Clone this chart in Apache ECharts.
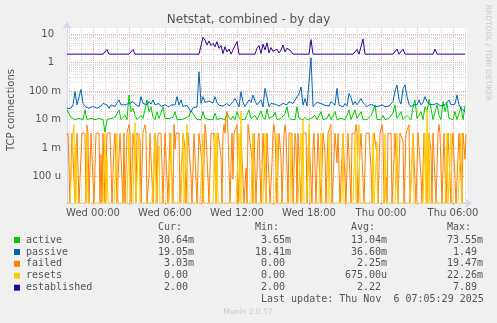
<!DOCTYPE html>
<html>
<head>
<meta charset="utf-8">
<script src="https://cdn.jsdelivr.net/npm/echarts@6/dist/echarts.min.js"></script>
<style>
html,body{margin:0;padding:0;background:#f0f0f0}
#chart{width:497px;height:323px}
</style>
</head>
<body>
<div id="chart"></div>
<script>
// x axis: 5 minute slots, Tue 21:50 .. Thu 07:10
var startMinute = 21 * 60 + 50;
var slotMinutes = 5;
var slotCount = 401;
var dayNames = ['Tue', 'Wed', 'Thu'];
var tickLabels = ['Wed 00:00', 'Wed 06:00', 'Wed 12:00', 'Wed 18:00', 'Thu 00:00', 'Thu 06:00'];
var yTickLabels = ['100 u', '1 m', '10 m', '100 m', '1', '10']; // 1e-4 .. 1e1

// active / passive / established: one value every 10 minutes (every 2nd slot)
// values in milli (x 1e-3)
var activeM = [
  22,16,12,14,10,10,11,10,10,22,
  10,10,11,10,10,10,11,10,10,3.65,
  10,10,11,10,12,14,22,10,10,14,
  10,73.55,19,25,14,10,10,14,11,10,
  49,19,28,12,10,19,11,10,28,11,
  10,11,10,12,19,10,10,10,10,11,
  10,13,20,22,13,10,10,10,19,11,
  10,10,11,10,17,10,10,11,10,10,
  17,12,10,13,10,19,12,10,10,10,
  11,22,11,10,14,10,10,20,12,10,
  24,11,12,13,18,10,11,11,10,16,
  28,12,10,10,10,28,11,10,10,12,
  10,10,11,10,14,10,10,19,10,11,
  11,16,10,10,19,10,10,11,11,10,
  14,22,10,10,22,11,10,19,10,10,
  10,10,14,20,33,10,10,10,14,10,
  10,11,12,17,33,11,10,19,10,10,
  14,16,10,28,49,11,10,19,10,28,
  19,52,25,10,10,33,14,10,43,19,
  37,11,10,10,19,10,10,28,10,30.64
];
var passiveM = [
  25,29,25,33,96,33,29,115,37,29,
  33,25,28,29,33,25,28,30,37,37,
  33,25,33,30,29,38,49,33,29,33,
  29,37,40,43,35,33,29,64,37,33,
  33,43,35,49,33,37,37,29,33,33,
  38,28,33,30,33,64,32,49,29,33,
  32,28,18.41,26,30,28,480,37,64,40,
  37,45,43,38,64,40,32,37,30,28,
  37,30,28,43,55,64,28,96,40,29,
  33,49,40,73,45,33,35,49,28,126,
  60,29,37,33,35,37,30,28,37,35,
  33,43,49,37,40,64,80,140,32,55,
  30,32,1490,29,33,40,43,37,35,32,
  33,30,43,38,32,126,32,30,28,37,
  30,83,60,33,43,33,35,55,40,43,
  28,33,31,33,28,25,30,29,33,28,
  25,30,29,43,100,165,50,35,120,165,
  64,35,28,33,37,33,49,33,40,64,
  43,35,33,33,37,37,33,30,29,33,
  35,49,33,33,35,73,33,25,28,19.05
];
var established = [
  2,2,2,2,2,2,2,2,2,2,
  2,2,2,2,2,2,2,2,2,2,
  2.9,2,2,2,2,2,2,2,2,2,
  2,2,2,2.9,2,2,2,2,2,2,
  2,2,2,2,2,2,2,2,2,2,
  2,2,2,2,2,2,2,2,2,2,
  2,2,2,2,2,2,2,2,7.89,6.3,
  4.2,5.8,4.0,4.8,3.65,5.5,3.2,4.0,2.1,3.65,
  2.4,3.0,2.0,2.8,4.0,5.5,2.0,2,2,2,
  2,2,2,2,2,3.2,4.0,2.1,4.5,2.8,
  5.0,2.2,3.4,2.5,2.8,3.0,2.2,2.8,4.2,2.4,
  3.2,3.65,2.6,2.0,2,2,2,2,2,2,
  2,2,6.5,2,2,2,2,2,2,2,
  2,2,2,2,2,2,2,2,2,2,
  2,2,2,2,2,2.9,2,2,6.8,2,
  2,2,2,2,2,2,2,2,2,2,
  2,2,2,2,2,3.0,2,2,3.0,2,
  2,2,2,2,2,2,2,2,2,2,
  2,2,2,2,3.0,2,2,2,2,2,
  2,2,2,2,2,2,2,2,2,2
];

// failed / resets: one value every 5 minutes, in milli
var failedM = [
  2.8,3.3,3.4,0,0,3.3,3.3,3.5,0,0.4,
  3.3,3.3,0,0,0,3.4,3.3,3.3,3.3,0,
  6.5,3.3,0,0.2,3.3,3.4,3.3,0,0,3.3,
  3.3,3.4,3.3,0,0.6,0,3.3,3.3,0,0,
  3.3,3.4,3.3,3.5,3.3,0,0,1.2,3.3,3.4,
  0,0,0,3.3,3.3,3.3,0,3.4,0,0,
  3.4,3.3,6.7,3.3,0,0,3.3,3.3,0.5,0,
  3.4,3.3,3.3,2.0,0,0,3.5,3.3,6.6,3.3,
  0,0,0.1,3.3,3.3,3.4,0,0,3.3,1.5,
  0,3.3,3.4,3.3,3.3,0.2,0,0,3.3,3.3,
  3.3,0,0,3.4,3.3,3.3,0,6.7,0.9,3.3,
  3.3,3.3,3.4,0,0,0,3.3,3.3,1.0,0,
  0,3.4,3.3,3.3,0.1,0,0,3.3,3.3,3.3,
  0,0,3.3,3.4,3.3,0.3,0,0,6.7,3.3,
  3.3,3.3,0,0,3.3,3.4,3.3,3.3,0.15,0,
  0,3.4,3.3,3.3,0.5,0,3.3,6.7,3.3,12,
  19.47,3.3,3.3,0,0,3.3,0.08,3.3,3.3,3.3,
  6.6,0,0,0.8,3.3,3.3,3.4,0,0,0.2,
  0,6.7,3.3,3.3,3.3,0.4,0,3.3,3.4,0,
  0,2.2,3.3,3.3,0,0,3.3,3.3,3.3,0,
  3.3,3.3,3.4,0,0,0.3,3.3,6.7,3.3,3.3,
  0,0,3.3,3.3,0.5,0,0,3.3,6.5,3.3,
  0.2,0,3.4,3.3,3.3,3.3,0,0,3.3,1.5,
  0,3.3,3.3,3.3,0,0,3.3,3.3,3.3,3.4,
  0,0,3.3,3.3,3.4,0,1.2,3.3,3.3,0,
  0,3.3,3.3,3.3,0,0.2,3.3,3.3,0.7,0,
  0,3.4,3.3,3.3,6.7,0,0,0,3.3,3.3,
  0.3,3.3,3.3,0,0,0.5,3.3,3.3,3.4,0,
  0,3.3,3.3,0.1,0,3.3,3.4,3.3,3.3,6.7,
  3.3,0,0,0.9,3.3,3.3,3.3,0,0,3.3,
  3.4,3.3,3.3,3.3,0.2,0,0,3.4,3.3,3.3,
  0.6,0,0,3.3,3.3,6.7,3.3,0,0,0.1,
  0,3.3,3.4,3.3,3.3,0,0,0.4,3.3,3.3,
  3.3,0,0,3.4,3.3,3.3,1.8,0,0,3.3,
  3.3,3.3,6.6,0,0,0.3,3.3,3.3,3.3,0,
  0,3.4,3.3,3.3,0.1,0,0,3.4,3.3,3.3,
  0,0,3.3,3.3,0.8,0,3.3,3.3,3.4,0,
  0,3.3,6.7,3.3,3.3,0,0.2,3.3,3.3,0,
  0,3.4,3.3,3.3,0,1.2,3.3,3.3,3.3,0,
  0,0.5,3.3,3.3,3.3,0,3.4,3.3,0.4,3.03
];
var resetsM = [
  0,0,0,0,0,0,3.3,6.7,0,1.5,0,0,0,0,0,0,0,0,0,0,
  3.3,0,0,0,0,0,0,0,0,0,0,0,0,0,0,0,0,0,3.3,0,
  0.5,0,0,0,0,0,0,0,0,0,3.3,0,0,0,0,0,0,0,0,0,
  0,0,3.3,0,0,0,0,0,8,0,0,0,3.3,0,0,0,0,0,0,0,
  0,0,0,0,0,0,0,0,3.3,0,0,0,1.2,0,0,0,0,0,0,0,
  0,0,0,0,3.3,0,0,0,0,0,0,0,0,0,0,0,3.3,0,0,0,
  6.7,0,0,0,0,0,0,0,0,0,0,0,0,0,0,0,3.3,0,0,0,
  0,0,0,0,0,0,0,0,3.3,0,3.3,0,0,0,0,0,0,0,0,0,
  0,0,0,0,0,0,0,0,0,0,0,0,3.3,0,20,0,0,0,0,0,
  0,0,0,0,0,0,3.3,0,0,0,0,0,0,0,0,0,0,0,3.3,0,
  0,0,0,0,0,0,0,0,0,0,3.3,0,0,0,0,0,0,0,0,0,
  0,0,0,0,3.3,0,0,0,0,0,0,0,0,0,3.3,0,10,0,0,0,
  0,0,6.7,0,0,0,0,0,0,0,0,0,0,0,3.3,0,0,0,0,0,
  0,0,3.3,0,0,0,0,0,0,0,0,0,0,0,0,0,3.3,0,0,0,
  0,0,0,0,0,0,0,0,3.3,0,0,0,6.7,0,0,0,0,0,0,0,
  0,0,0,0,0,0,3.3,0,0,0,1.7,0,0,0,0,0,0,0,3.3,0,
  0,0,0,0,0,0,0,0,0,0,3.3,0,0,0,0,0,0,0,0,0,
  0,0,0,0,0,0,3.3,0,0,0,0,0,0,0,0,0,0,0,3.3,0,
  22.26,0,3.3,0,0,0,0,0,0,0,0,0,0,0,0,0,0,0,0,0,
  3.3,0,0,0,3.3,0,0,0,0,0,0,0,0,0,3.3,0,0,0,0,0
];

var legendNames = ['active', 'passive', 'failed', 'resets', 'established'];
var legendColors = ['#00cc00', '#0066b3', '#ff8000', '#ffcc00', '#330099'];
var legendCur = ['30.64m', '19.05m', '3.03m', '0.00', '2.00'];
var legendMin = ['3.65m', '18.41m', '0.00', '0.00', '2.00'];
var legendAvg = ['13.04m', '36.60m', '2.25m', '675.00u', '2.22'];
var legendMax = ['73.55m', '1.49', '19.47m', '22.26m', '7.89'];
var lastUpdate = 'Last update: Thu Nov  6 07:05:29 2025';

var Y_MIN = 1.17e-5, Y_MAX = 16.6;
var FONT = 'DejaVu Sans', MONO = 'DejaVu Sans Mono';

var cats = [];
for (var i = 0; i < slotCount; i++) {
  var t = startMinute + i * slotMinutes;
  var hh = Math.floor((t % 1440) / 60), mm = t % 60;
  cats.push(dayNames[Math.floor(t / 1440)] + ' ' + (hh < 10 ? '0' : '') + hh + ':' + (mm < 10 ? '0' : '') + mm);
}
function isHour(idx, v){ return /:00$/.test(v); }
function isThreeHour(idx, v){ return /:00$/.test(v) && (+v.slice(4, 6)) % 3 === 0; }

// rrdtool draws zero at the bottom edge of a log graph
function toValue(v, scale){ return v === 0 ? Y_MIN : v * scale; }
function everySlot(arr, scale){ return arr.map(function(v, i){ return [i, toValue(v, scale)]; }); }
function everyOtherSlot(arr, scale){ return arr.map(function(v, i){ return [i * 2, toValue(v, scale)]; }); }

var minorGrid = [];
for (var e = -5; e <= 1; e++) {
  for (var k = 2; k <= 9; k++) {
    var g = k * Math.pow(10, e);
    if (g > Y_MIN && g < Y_MAX) minorGrid.push({ yAxis: g });
  }
}

function yLabel(v){
  var ex = Math.log10(v), r = Math.round(ex);
  if (Math.abs(ex - r) > 0.01 || r < -4 || r > 1) return '';
  var s = yTickLabels[r + 4];
  return /[a-z]$/.test(s) ? '{a|' + s + '}' : '{a|' + s + '}{p| }';
}

function line(name, data, color, z){
  return { name: name, type: 'line', data: data, z: z, showSymbol: false, symbol: 'none',
    lineStyle: { color: color, width: 1 }, itemStyle: { color: color }, clip: true, animation: false };
}

var graphic = [
  { type: 'text', left: 'center', top: 14, style: { text: 'Netstat, combined - by day', font: '12px ' + FONT, fill: '#555' } },
  { type: 'text', x: 11, y: 110, rotation: Math.PI / 2, style: { text: 'TCP connections', font: '10px ' + FONT, fill: '#555', align: 'center', verticalAlign: 'middle' } },
  { type: 'text', x: 488, y: 53, rotation: -Math.PI / 2, style: { text: 'RRDTOOL / TOBI OETIKER', font: '7.5px ' + FONT, fill: '#c8c8c8', align: 'center', verticalAlign: 'middle' } },
  { type: 'text', x: 248, y: 312, style: { text: 'Munin 2.0.57', font: '7.5px ' + FONT, fill: '#c8c8c8', align: 'center', verticalAlign: 'middle' } }
];
var CW = 6.02;
var colEnd = [188.1, 285.1, 381.1, 477.1];
var heads = ['Cur:', 'Min:', 'Avg:', 'Max:'];
function monoText(s, x, y){
  return { type: 'text', x: x, y: y, style: { text: s, font: '10px ' + MONO, fill: '#555', align: 'left', verticalAlign: 'middle' } };
}
heads.forEach(function(h, c){ graphic.push(monoText(h, colEnd[c] - 5 * CW, 227.7)); });
var rowY = [240, 252, 263.8, 275.7, 287.7];
legendNames.forEach(function(n, r){
  graphic.push({ type: 'rect', shape: { x: 14, y: rowY[r] - 3, width: 6, height: 6 }, style: { fill: legendColors[r] } });
  graphic.push(monoText(n, 26, rowY[r]));
  [legendCur, legendMin, legendAvg, legendMax].forEach(function(col, c){
    var s = col[r], num = s.replace(/[a-z]$/, '');
    graphic.push(monoText(s, colEnd[c] - num.length * CW, rowY[r]));
  });
});
graphic.push(monoText(lastUpdate, 261, 299.7));

var chart = echarts.init(document.getElementById('chart'), null, { renderer: 'canvas' });
chart.setOption({
  backgroundColor: '#f0f0f0',
  animation: false,
  grid: { left: 67, top: 28, width: 400, height: 175, show: true, backgroundColor: '#ffffff', borderWidth: 0, containLabel: false, outerBoundsMode: 'none' },
  xAxis: [{
    type: 'category', data: cats, boundaryGap: false,
    axisLine: { onZero: false, lineStyle: { color: '#cfd6f8', width: 1 }, symbol: ['none', 'arrow'], symbolSize: [7, 7], symbolOffset: [0, 5] },
    axisTick: { show: false },
    axisLabel: { interval: function(idx, v){ return tickLabels.indexOf(v) >= 0; }, fontSize: 10, fontFamily: FONT, color: '#555', margin: 5 },
    splitLine: { show: true, interval: isHour, lineStyle: { color: '#d4d4d4', width: 1, type: [1, 1] } }
  }, {
    type: 'category', data: cats, boundaryGap: false, position: 'bottom',
    axisLine: { show: false }, axisLabel: { show: false },
    axisTick: { show: true, interval: isThreeHour, length: 2, lineStyle: { color: '#f0a0a0' } },
    splitLine: { show: true, interval: isThreeHour, lineStyle: { color: '#f2a4a4', width: 1, type: [1, 1] } }
  }],
  yAxis: {
    type: 'log', logBase: 10, min: Y_MIN, max: Y_MAX,
    axisLine: { show: true, lineStyle: { color: '#cfd6f8', width: 1 }, symbol: ['none', 'arrow'], symbolSize: [7, 7], symbolOffset: [0, 6] },
    axisTick: { show: false },
    axisLabel: { formatter: yLabel, margin: 6, fontSize: 10, fontFamily: FONT, color: '#555',
      rich: { a: { fontSize: 10, fontFamily: FONT, color: '#555' }, p: { width: 7 } } },
    splitLine: { show: true, showMinLine: false, showMaxLine: false, lineStyle: { color: '#f2a4a4', width: 1, type: [1, 1] } }
  },
  series: [
    { type: 'line', data: cats.map(function(){ return null; }), z: 1, silent: true, animation: false,
      markLine: { z: 1, silent: true, symbol: 'none', label: { show: false }, animation: false,
        lineStyle: { color: '#dcdcdc', width: 1, type: [1, 1] }, emphasis: { disabled: true }, data: minorGrid } },
    line('active', everyOtherSlot(activeM, 1e-3), legendColors[0], 3),
    line('passive', everyOtherSlot(passiveM, 1e-3), legendColors[1], 4),
    line('failed', everySlot(failedM, 1e-3), legendColors[2], 5),
    line('resets', everySlot(resetsM, 1e-3), legendColors[3], 6),
    line('established', everyOtherSlot(established, 1), legendColors[4], 7)
  ],
  graphic: graphic
});
</script>
</body>
</html>
